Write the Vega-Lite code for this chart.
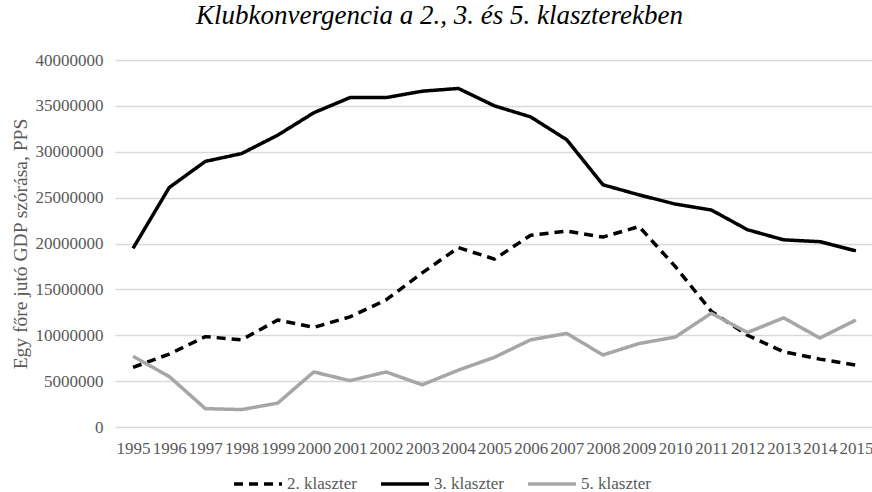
{
  "$schema": "https://vega.github.io/schema/vega-lite/v6.json",
  "width": 759,
  "height": 367,
  "autosize": "none",
  "padding": {"left": 115, "top": 60, "right": 0, "bottom": 65},
  "background": "white",
  "title": {
    "text": "Klubkonvergencia a 2., 3. és 5. klaszterekben",
    "font": "Liberation Serif",
    "fontStyle": "italic",
    "fontWeight": "normal",
    "fontSize": 27,
    "color": "#000000",
    "anchor": "middle",
    "dx": -55,
    "offset": 21
  },
  "config": {
    "view": {"stroke": null},
    "font": "Liberation Serif"
  },
  "data": {
    "values": [
      {"year": "1995", "series": "2. klaszter", "value": 6500000},
      {"year": "1996", "series": "2. klaszter", "value": 7950000},
      {"year": "1997", "series": "2. klaszter", "value": 9850000},
      {"year": "1998", "series": "2. klaszter", "value": 9500000},
      {"year": "1999", "series": "2. klaszter", "value": 11660000},
      {"year": "2000", "series": "2. klaszter", "value": 10860000},
      {"year": "2001", "series": "2. klaszter", "value": 12000000},
      {"year": "2002", "series": "2. klaszter", "value": 13850000},
      {"year": "2003", "series": "2. klaszter", "value": 16800000},
      {"year": "2004", "series": "2. klaszter", "value": 19550000},
      {"year": "2005", "series": "2. klaszter", "value": 18300000},
      {"year": "2006", "series": "2. klaszter", "value": 20900000},
      {"year": "2007", "series": "2. klaszter", "value": 21350000},
      {"year": "2008", "series": "2. klaszter", "value": 20700000},
      {"year": "2009", "series": "2. klaszter", "value": 21850000},
      {"year": "2010", "series": "2. klaszter", "value": 17500000},
      {"year": "2011", "series": "2. klaszter", "value": 12600000},
      {"year": "2012", "series": "2. klaszter", "value": 10000000},
      {"year": "2013", "series": "2. klaszter", "value": 8200000},
      {"year": "2014", "series": "2. klaszter", "value": 7400000},
      {"year": "2015", "series": "2. klaszter", "value": 6750000},
      {"year": "1995", "series": "3. klaszter", "value": 19480000},
      {"year": "1996", "series": "3. klaszter", "value": 26100000},
      {"year": "1997", "series": "3. klaszter", "value": 28950000},
      {"year": "1998", "series": "3. klaszter", "value": 29800000},
      {"year": "1999", "series": "3. klaszter", "value": 31800000},
      {"year": "2000", "series": "3. klaszter", "value": 34250000},
      {"year": "2001", "series": "3. klaszter", "value": 35900000},
      {"year": "2002", "series": "3. klaszter", "value": 35900000},
      {"year": "2003", "series": "3. klaszter", "value": 36600000},
      {"year": "2004", "series": "3. klaszter", "value": 36900000},
      {"year": "2005", "series": "3. klaszter", "value": 35000000},
      {"year": "2006", "series": "3. klaszter", "value": 33800000},
      {"year": "2007", "series": "3. klaszter", "value": 31300000},
      {"year": "2008", "series": "3. klaszter", "value": 26400000},
      {"year": "2009", "series": "3. klaszter", "value": 25300000},
      {"year": "2010", "series": "3. klaszter", "value": 24300000},
      {"year": "2011", "series": "3. klaszter", "value": 23650000},
      {"year": "2012", "series": "3. klaszter", "value": 21500000},
      {"year": "2013", "series": "3. klaszter", "value": 20400000},
      {"year": "2014", "series": "3. klaszter", "value": 20200000},
      {"year": "2015", "series": "3. klaszter", "value": 19200000},
      {"year": "1995", "series": "5. klaszter", "value": 7700000},
      {"year": "1996", "series": "5. klaszter", "value": 5500000},
      {"year": "1997", "series": "5. klaszter", "value": 2000000},
      {"year": "1998", "series": "5. klaszter", "value": 1900000},
      {"year": "1999", "series": "5. klaszter", "value": 2600000},
      {"year": "2000", "series": "5. klaszter", "value": 6000000},
      {"year": "2001", "series": "5. klaszter", "value": 5050000},
      {"year": "2002", "series": "5. klaszter", "value": 6000000},
      {"year": "2003", "series": "5. klaszter", "value": 4600000},
      {"year": "2004", "series": "5. klaszter", "value": 6200000},
      {"year": "2005", "series": "5. klaszter", "value": 7600000},
      {"year": "2006", "series": "5. klaszter", "value": 9500000},
      {"year": "2007", "series": "5. klaszter", "value": 10200000},
      {"year": "2008", "series": "5. klaszter", "value": 7850000},
      {"year": "2009", "series": "5. klaszter", "value": 9100000},
      {"year": "2010", "series": "5. klaszter", "value": 9800000},
      {"year": "2011", "series": "5. klaszter", "value": 12400000},
      {"year": "2012", "series": "5. klaszter", "value": 10300000},
      {"year": "2013", "series": "5. klaszter", "value": 11900000},
      {"year": "2014", "series": "5. klaszter", "value": 9700000},
      {"year": "2015", "series": "5. klaszter", "value": 11660000}
    ]
  },
  "mark": {"type": "line", "strokeWidth": 3.5, "strokeCap": "butt", "strokeJoin": "round"},
  "encoding": {
    "x": {
      "field": "year",
      "type": "ordinal",
      "scale": {"type": "point", "padding": 0.5},
      "axis": {
        "title": null,
        "labelAngle": 0,
        "labelFont": "Liberation Serif",
        "labelFontSize": 17,
        "labelColor": "#595959",
        "labelPadding": 13,
        "labelOverlap": false,
        "labelBound": false,
        "ticks": false,
        "domain": false,
        "grid": false
      }
    },
    "y": {
      "field": "value",
      "type": "quantitative",
      "scale": {"domain": [0, 40000000], "nice": false},
      "axis": {
        "title": "Egy főre jutó GDP szórása, PPS",
        "titleFont": "Liberation Serif",
        "titleFontSize": 19.5,
        "titleFontWeight": "normal",
        "titleColor": "#595959",
        "titleX": -85,
        "titleY": 183.5,
        "values": [0, 5000000, 10000000, 15000000, 20000000, 25000000, 30000000, 35000000, 40000000],
        "format": "d",
        "labelFont": "Liberation Serif",
        "labelFontSize": 17,
        "labelColor": "#595959",
        "labelPadding": 12,
        "ticks": false,
        "domain": false,
        "grid": true,
        "gridColor": "#d9d9d9",
        "gridWidth": 1.3
      }
    },
    "color": {
      "field": "series",
      "type": "nominal",
      "scale": {"domain": ["2. klaszter", "3. klaszter", "5. klaszter"], "range": ["#000000", "#000000", "#a6a6a6"]},
      "legend": {
        "title": null,
        "orient": "none",
        "direction": "horizontal",
        "legendX": 117,
        "legendY": 398,
        "padding": 0,
        "symbolType": "stroke",
        "symbolSize": 2304,
        "symbolStrokeWidth": 3.5,
        "labelFont": "Liberation Serif",
        "labelFontSize": 17,
        "labelColor": "#595959",
        "labelOffset": 3,
        "columnPadding": 17
      }
    },
    "strokeDash": {
      "field": "series",
      "type": "nominal",
      "scale": {"domain": ["2. klaszter", "3. klaszter", "5. klaszter"], "range": [[9, 6], [1, 0], [1, 0]]},
      "legend": null
    }
  }
}
